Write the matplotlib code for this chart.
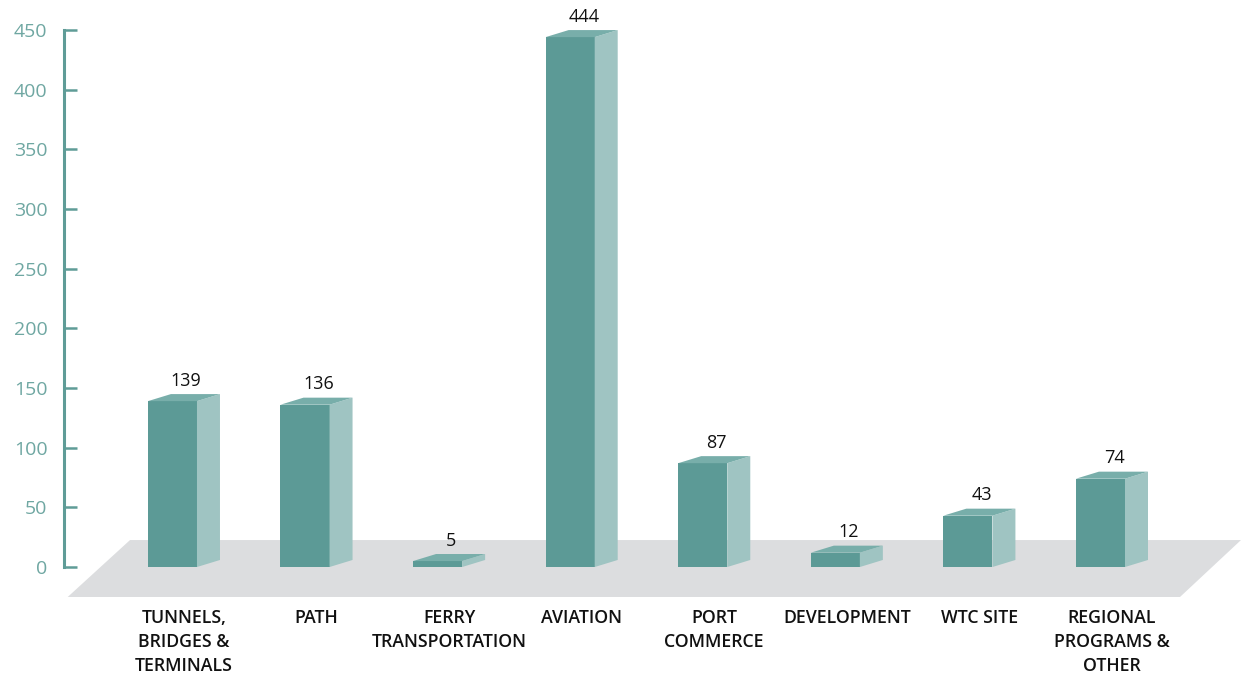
import matplotlib
matplotlib.use("Agg")
import matplotlib.pyplot as plt
from matplotlib.patches import Polygon
import numpy as np

categories = ["TUNNELS,\nBRIDGES &\nTERMINALS", "PATH", "FERRY\nTRANSPORTATION", "AVIATION",
              "PORT\nCOMMERCE", "DEVELOPMENT", "WTC SITE", "REGIONAL\nPROGRAMS &\nOTHER"]
values = [139, 136, 5, 444, 87, 12, 43, 74]
y_ticks = [0, 50, 100, 150, 200, 250, 300, 350, 400, 450]

front_col = "#5c9a96"
side_col = "#9fc4c2"
top_col = "#78aeaa"
floor_col = "#dcdddf"
axis_col = "#5f9c97"
tick_text_col = "#6fa7a2"

bar_w = 0.37
dx = 0.1735   # depth offset in category units
dy = 5.9      # depth offset in value units

fig = plt.figure(figsize=(12.41, 6.73), dpi=100)
ax = fig.add_axes([64 / 1241, 0, 1 - 64 / 1241, 1])
ax.set_xlim(-0.818, 8.06)
ax.set_ylim(-88.8, 475.1)

x = np.arange(len(values))

# floor
floor = Polygon([(-0.79, -25.1), (7.60, -25.1), (8.06, 22.6), (-0.32, 22.6)],
                closed=True, facecolor=floor_col, edgecolor="none", zorder=1)
ax.add_patch(floor)

# bars: front face, side, top
ax.bar(x, values, width=bar_w, color=front_col, zorder=3)
for xi, v in zip(x, values):
    r = xi + bar_w / 2
    l = xi - bar_w / 2
    side = Polygon([(r, 0), (r + dx, dy), (r + dx, v + dy), (r, v)],
                   closed=True, facecolor=side_col, edgecolor="none", zorder=3)
    top = Polygon([(l, v), (r, v), (r + dx, v + dy), (l + dx, v + dy)],
                  closed=True, facecolor=top_col, edgecolor="none", zorder=3)
    ax.add_patch(side)
    ax.add_patch(top)
    ax.text(xi + dx * 0.6, v + dy + 3.5, str(v), ha="center", va="bottom",
            fontsize=13, color="#111111", family="Open Sans")

for xi, lab in zip(x, categories):
    ax.text(xi + dx / 2, -35.5, lab, ha="center", va="top", fontsize=12.8,
            color="#111111", family="Open Sans", fontweight="semibold", linespacing=1.42)

# axis styling
for s in ["top", "right", "bottom"]:
    ax.spines[s].set_visible(False)
ax.spines["left"].set_bounds(0, 450)
ax.spines["left"].set_color(axis_col)
ax.spines["left"].set_linewidth(2.2)
ax.set_xticks([])
ax.set_yticks(y_ticks)
ax.tick_params(axis="y", direction="in", length=9, width=1.8, color=axis_col,
               labelcolor=tick_text_col, labelsize=14, pad=12)
for t in ax.get_yticklabels():
    t.set_family("Open Sans")

fig.savefig("out.png", dpi=100)
